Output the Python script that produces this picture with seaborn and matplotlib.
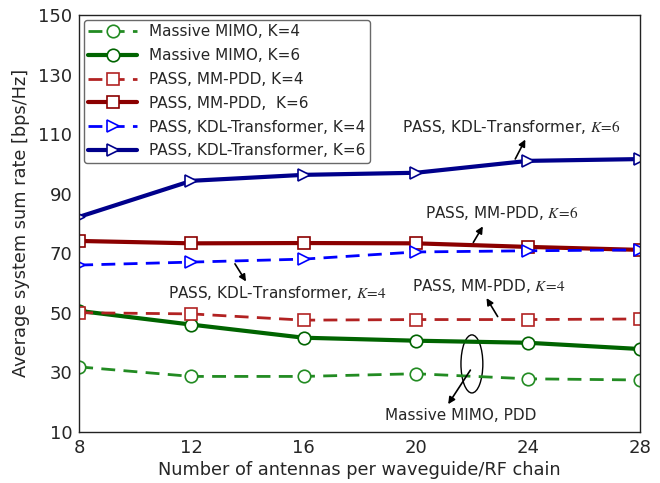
import numpy as np
import pandas as pd
import seaborn as sns
import matplotlib
matplotlib.use("Agg")
import matplotlib.pyplot as plt
from matplotlib.patches import Ellipse

antennas = [8, 12, 16, 20, 24, 28]
mimo_k4 = [31.8, 28.6, 28.6, 29.5, 27.8, 27.4]
mimo_k6 = [50.6, 46.0, 41.6, 40.6, 39.9, 37.8]
mmpdd_k4 = [50.0, 49.6, 47.5, 47.7, 47.7, 47.9]
mmpdd_k6 = [74.1, 73.3, 73.4, 73.3, 72.1, 71.1]
kdl_k4 = [66.0, 67.0, 68.0, 70.4, 70.8, 71.1]
kdl_k6 = [82.2, 94.3, 96.3, 97.0, 101.0, 101.6]

labels = ["Massive MIMO, K=4", "Massive MIMO, K=6", "PASS, MM-PDD, K=4",
          "PASS, MM-PDD,  K=6", "PASS, KDL-Transformer, K=4", "PASS, KDL-Transformer, K=6"]
series = [mimo_k4, mimo_k6, mmpdd_k4, mmpdd_k6, kdl_k4, kdl_k6]
colors = ["#228B22", "#006400", "#B22222", "#8B0000", "#0000FF", "#00008B"]
markers = ["o", "o", "s", "s", ">", ">"]
dashed = [True, False, True, False, True, False]

sns.set_theme(style="white")
plt.rcParams['font.family'] = ['DejaVu Sans']
plt.rcParams['mathtext.fontset'] = 'stix'

fig = plt.figure(figsize=(6.6, 4.83), dpi=100)
ax = fig.add_axes([0.12, 0.106, 0.85, 0.863])

for lab, vals, c, m, d in zip(labels, series, colors, markers, dashed):
    df = pd.DataFrame({"x": antennas, "y": vals})
    sns.lineplot(data=df, x="x", y="y", ax=ax, color=c, marker=m,
                 markersize=9, markerfacecolor="white", markeredgecolor=c,
                 markeredgewidth=1.2, linewidth=2.0 if d else 3.0,
                 linestyle="--" if d else "-", label=lab, dashes=False)
    if d:
        ax.lines[-1].set_dashes([5, 3])

ax.set_xlim(8, 28)
ax.set_ylim(10, 150)
ax.set_xticks([8, 12, 16, 20, 24, 28])
ax.set_yticks([10, 30, 50, 70, 90, 110, 130, 150])
ax.tick_params(labelsize=13, length=0, pad=5)
ax.set_xlabel("Number of antennas per waveguide/RF chain", fontsize=12.8, labelpad=3)
ax.set_ylabel("Average system sum rate [bps/Hz]", fontsize=12.8, labelpad=6)
for s in ax.spines.values():
    s.set_color("#222222")
    s.set_linewidth(1.0)

leg = ax.legend(loc="upper left", fontsize=11, handlelength=3.2,
                frameon=True, borderpad=0.3, labelspacing=0.58,
                bbox_to_anchor=(0.0, 1.0), borderaxespad=0.3)
leg.get_frame().set_edgecolor("#444444")
leg.get_frame().set_linewidth(1.0)

fs = 11
arr = dict(arrowstyle="-|>", color="black", lw=1.2, mutation_scale=10)
ax.annotate("PASS, KDL-Transformer, $K\\!=\\!6$", xy=(23.4, 112.5),
            ha="center", va="center", fontsize=fs)
ax.annotate("", xy=(23.95, 109.0), xytext=(23.5, 100.8), arrowprops=arr)
ax.annotate("PASS, MM-PDD, $K\\!=\\!6$", xy=(23.05, 83.6),
            ha="center", va="center", fontsize=fs)
ax.annotate("", xy=(22.44, 79.8), xytext=(22.0, 72.8), arrowprops=arr)
ax.annotate("PASS, KDL-Transformer, $K\\!=\\!4$", xy=(15.05, 56.6),
            ha="center", va="center", fontsize=fs)
ax.annotate("", xy=(14.0, 59.7), xytext=(13.5, 67.2), arrowprops=arr)
ax.annotate("PASS, MM-PDD, $K\\!=\\!4$", xy=(22.6, 59.0),
            ha="center", va="center", fontsize=fs)
ax.annotate("", xy=(22.47, 55.7), xytext=(22.97, 47.9), arrowprops=arr)
ax.annotate("Massive MIMO, PDD", xy=(21.6, 15.6),
            ha="center", va="center", fontsize=fs)
ax.annotate("", xy=(21.1, 18.5), xytext=(22.0, 31.5), arrowprops=arr)
ax.add_patch(Ellipse((22.0, 32.8), 0.78, 19.5, fill=False, edgecolor="black", lw=1.0))

fig.savefig("out.png", dpi=100)
